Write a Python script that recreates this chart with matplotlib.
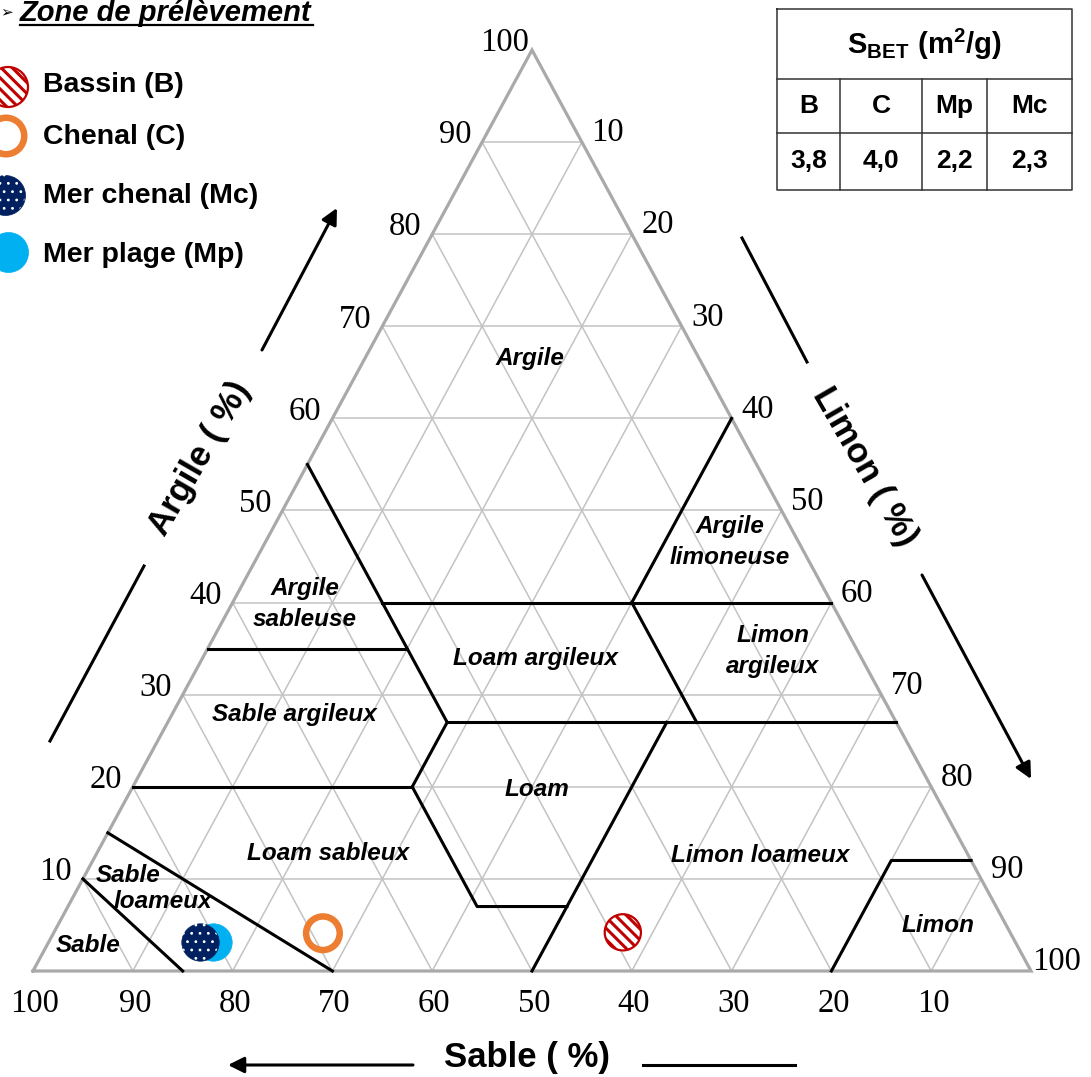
import matplotlib
matplotlib.use("Agg")
import matplotlib.pyplot as plt
from matplotlib.transforms import Affine2D

# samples (sand %, clay %), silt is the rest
sample_names = ["Bassin (B)", "Chenal (C)", "Mer chenal (Mc)", "Mer plage (Mp)"]
sample_sand = [38.8, 68.9, 81.7, 80.4]
sample_clay = [4.2, 4.1, 3.15, 3.15]

# BET surface table
sbet_labels = ["B", "C", "Mp", "Mc"]
sbet_values = [3.8, 4.0, 2.2, 2.3]

# USDA class boundaries as (sand, clay) polylines
boundaries = [
    [(45, 55), (45, 27)],
    [(45, 40), (0, 40)],
    [(20, 40), (0, 60)],
    [(65, 35), (45, 35)],
    [(45, 27), (0, 27)],
    [(20, 40), (20, 27)],
    [(80, 20), (52, 20)],
    [(52, 20), (45, 27)],
    [(52, 20), (52, 7), (43, 7)],
    [(23, 27), (50, 0)],
    [(20, 0), (8, 12), (0, 12)],
    [(85, 15), (70, 0)],
    [(90, 10), (85, 0)],
]

ticks = [10, 20, 30, 40, 50, 60, 70, 80, 90, 100]

# class names with label positions (pixels)
class_labels = [
    ("Argile", 530, 358), ("Argile", 730, 527), ("limoneuse", 730, 557),
    ("Argile", 305, 589), ("sableuse", 305, 619), ("Loam argileux", 535, 658),
    ("Limon", 773, 636), ("argileux", 773, 667), ("Sable argileux", 294, 714),
    ("Loam", 537, 790), ("Loam sableux", 328, 854), ("Limon loameux", 760, 855),
    ("Sable", 128, 875), ("loameux", 163, 902), ("Sable", 88, 946),
    ("Limon", 938, 925),
]

plt.rcParams["hatch.linewidth"] = 2.2
plt.rcParams["mathtext.fontset"] = "custom"
plt.rcParams["mathtext.rm"] = "Liberation Sans"
plt.rcParams["mathtext.bf"] = "Liberation Sans:bold"

SANS = "Liberation Sans"
SERIF = "Liberation Serif"


def uv(sand, clay):
    return 100 - sand - clay / 2.0, clay


fig = plt.figure(figsize=(10.91, 10.77), dpi=100)
ax = fig.add_axes([0, 0, 1, 1])
ax.set_xlim(0, 1091)
ax.set_ylim(1077, 0)
ax.axis("off")

# ternary (silt+clay/2, clay) -> pixel
tern = Affine2D().scale(9.98, -9.21).translate(33, 971) + ax.transData

grid_kw = dict(color="#C3C3C3", lw=1.1, transform=tern, zorder=1)
for k in range(10, 100, 10):
    a, b = uv(100 - k, k), uv(0, k)
    ax.plot([a[0], b[0]], [a[1], b[1]], **grid_kw)
    a, b = uv(k, 0), uv(k, 100 - k)
    ax.plot([a[0], b[0]], [a[1], b[1]], **grid_kw)
    a, b = uv(100 - k, 0), uv(0, 100 - k)
    ax.plot([a[0], b[0]], [a[1], b[1]], **grid_kw)

outline = [uv(s, c) for s, c in [(100, 0), (0, 100), (0, 0), (100, 0)]]
ax.plot([p[0] for p in outline], [p[1] for p in outline], color="#A9A9A9",
        lw=2.3, transform=tern, zorder=2, solid_joinstyle="miter")

for line in boundaries:
    pts = [uv(s, c) for s, c in line]
    ax.plot([p[0] for p in pts], [p[1] for p in pts], color="black", lw=2.2,
            transform=tern, zorder=3)

# tick labels
for t in ticks:
    ax.annotate(str(t), xy=uv(100 - t, t), xycoords=tern, xytext=(-27, 7),
                textcoords="offset pixels", ha="center", va="center",
                fontsize=23.5, family=SERIF)
    ax.annotate(str(t), xy=uv(0, 100 - t), xycoords=tern, xytext=(26, 9),
                textcoords="offset pixels", ha="center", va="center",
                fontsize=23.5, family=SERIF)
    ax.annotate(str(t), xy=uv(t, 0), xycoords=tern, xytext=(2, -33),
                textcoords="offset pixels", ha="center", va="center",
                fontsize=23.5, family=SERIF)

for name, x, y in class_labels:
    ax.text(x, y, name, ha="center", va="center", fontsize=17.5,
            fontweight="bold", fontstyle="italic", family=SANS, zorder=4)

# axis titles
ax.text(200, 458, "Argile ( %)", rotation=60, ha="center", va="center",
        fontsize=25, fontweight="bold", family=SANS)
ax.text(865, 467, "Limon ( %)", rotation=-60, ha="center", va="center",
        fontsize=25, fontweight="bold", family=SANS)
ax.text(527, 1058, "Sable ( %)", ha="center", va="center",
        fontsize=25, fontweight="bold", family=SANS)

arrow_kw = dict(arrowstyle="-|>", lw=2.2, color="black", mutation_scale=24,
                shrinkA=0, shrinkB=0)
ax.plot([50, 144], [741, 566], color="black", lw=2.2)
ax.annotate("", xy=(337, 208), xytext=(262, 350), arrowprops=arrow_kw)
ax.plot([742, 807], [238, 362], color="black", lw=2.2)
ax.annotate("", xy=(1031, 779), xytext=(922, 575), arrowprops=arrow_kw)
ax.annotate("", xy=(228, 1065), xytext=(413, 1065), arrowprops=arrow_kw)
ax.plot([643, 795], [1065, 1065], color="black", lw=2.2)

# sample markers
styles = {
    "Bassin (B)": dict(facecolor="white", edgecolor="#C00000", hatch="\\\\\\", lw=1.6),
    "Chenal (C)": dict(facecolor="none", edgecolor="#ED7D31", lw=4.7),
    "Mer chenal (Mc)": dict(facecolor="#002060", edgecolor="#002060", lw=0.5),
    "Mer plage (Mp)": dict(facecolor="#00B0F0", edgecolor="#00B0F0", lw=0.5),
}
sizes = {"Bassin (B)": 680, "Chenal (C)": 585, "Mer chenal (Mc)": 725,
         "Mer plage (Mp)": 725}
order = [0, 1, 3, 2]


def dots(coll):
    if hasattr(coll, "set_hatch_linewidth"):
        coll.set_hatch_linewidth(0.8)


for i in order:
    name = sample_names[i]
    u, v = uv(sample_sand[i], sample_clay[i])
    ax.scatter([u], [v], s=sizes[name], transform=tern, zorder=6, **styles[name])
    if name == "Mer chenal (Mc)":
        d = ax.scatter([u], [v], s=sizes[name], transform=tern, zorder=7,
                       facecolor="none", edgecolor="white", hatch="..", lw=0)
        dots(d)

# legend
ax.text(7, 12, "\u27a2", ha="center", va="center", fontsize=11,
        family=["DejaVu Sans"])
ax.text(20, 21, "Zone de prélèvement", fontsize=21, fontweight="bold",
        fontstyle="italic", family=SANS, va="baseline", ha="left")
ax.plot([20, 313], [25, 25], color="black", lw=1.6)
leg_xy = [(8, 87), (6, 136), (5, 195), (8, 252)]
leg_base = [92, 144, 203, 262]
for i, name in enumerate(sample_names):
    x, y = leg_xy[i]
    s = 830 if i != 1 else 690
    ax.scatter([x], [y], s=s, clip_on=False, zorder=6, **styles[name])
    if name == "Mer chenal (Mc)":
        d = ax.scatter([x], [y], s=s, clip_on=False, zorder=7,
                       facecolor="none", edgecolor="white", hatch="..", lw=0)
        dots(d)
    ax.text(43, leg_base[i], name, fontsize=20.5, fontweight="bold",
            family=SANS, va="baseline", ha="left")

# BET table
tl, tr, tt, tb = 777, 1072, 9, 190
row_y = [79, 133]
col_x = [840, 922, 987]
tkw = dict(color="#333333", lw=1.1)
ax.plot([tl, tr, tr, tl, tl], [tt, tt, tb, tb, tt], **tkw)
for y in row_y:
    ax.plot([tl, tr], [y, y], **tkw)
for x in col_x:
    ax.plot([x, x], [row_y[0], tb], **tkw)
ax.text((tl + tr) / 2, 44, r"$\mathbf{S}_{\mathbf{BET}}\ \mathbf{(m^{2}/g)}$",
        ha="center", va="center", fontsize=21)
edges = [tl] + col_x + [tr]
for j in range(4):
    cx = (edges[j] + edges[j + 1]) / 2
    ax.text(cx, 106, sbet_labels[j], ha="center", va="center", fontsize=19,
            fontweight="bold", family=SANS)
    ax.text(cx, 161, f"{sbet_values[j]:.1f}".replace(".", ","), ha="center",
            va="center", fontsize=19, fontweight="bold", family=SANS)

fig.savefig("out.png", dpi=100, facecolor="white")
